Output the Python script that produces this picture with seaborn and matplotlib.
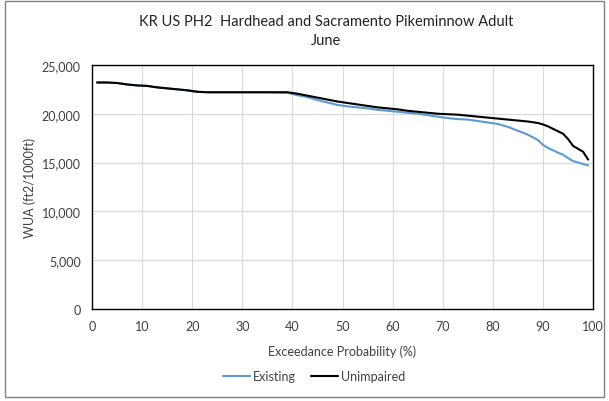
import pandas as pd
import matplotlib.pyplot as plt
import matplotlib.ticker as mticker
from matplotlib.patches import Rectangle
import seaborn as sns

# exceedance probability (%) and WUA values
prob = [1, 3, 5, 7, 9, 11, 13, 15, 17, 19, 21, 23, 27, 31, 35, 39, 41, 43, 45, 47,
        49, 51, 53, 55, 57, 59, 61, 63, 65, 67, 69, 71, 73, 75, 77, 79, 81, 83, 85,
        87, 89, 90, 91, 92, 93, 94, 95, 96, 97, 98, 99]

unimpaired = [23200, 23200, 23150, 23000, 22900, 22850, 22700, 22600, 22500, 22400,
              22250, 22200, 22200, 22200, 22200, 22200, 22050, 21850, 21650, 21450,
              21250, 21100, 20950, 20800, 20650, 20550, 20450, 20300, 20200, 20100,
              20000, 19950, 19900, 19800, 19700, 19600, 19500, 19400, 19300, 19200,
              19050, 18900, 18700, 18450, 18200, 17950, 17400, 16700, 16400, 16100, 15300]

existing = [23200, 23200, 23150, 23000, 22900, 22850, 22700, 22600, 22500, 22400,
            22250, 22200, 22200, 22200, 22200, 22150, 21900, 21700, 21400, 21150,
            20900, 20750, 20650, 20550, 20400, 20300, 20200, 20100, 20000, 19850,
            19700, 19550, 19450, 19400, 19250, 19100, 18950, 18650, 18250, 17850,
            17300, 16800, 16500, 16250, 16000, 15800, 15450, 15150, 15000, 14850, 14700]

df = pd.DataFrame({
    "prob": prob * 2,
    "wua": existing + unimpaired,
    "series": ["Existing"] * len(prob) + ["Unimpaired"] * len(prob),
})

sns.set_style("white")
plt.rcParams["font.family"] = ["Lato", "DejaVu Sans"]

fig = plt.figure(figsize=(6.09, 4.02), dpi=100)
ax = fig.add_axes([0.151, 0.229, 0.823, 0.607])

sns.lineplot(data=df, x="prob", y="wua", hue="series",
             palette={"Existing": "#5B9BD5", "Unimpaired": "black"},
             linewidth=1.5, ax=ax)

ax.set_xlim(0, 100)
ax.set_ylim(0, 25000)
ax.set_xticks(range(0, 101, 10))
ax.set_yticks(range(0, 25001, 5000))
ax.yaxis.set_major_formatter(mticker.FuncFormatter(lambda v, p: f"{int(v):,}"))
ax.grid(True, color="#D9D9D9", linewidth=0.8)
for s in ax.spines.values():
    s.set_color("black")
    s.set_linewidth(1)
ax.tick_params(labelsize=9, length=0, pad=8, colors="#404040")

ax.set_xlabel("Exceedance Probability (%)", fontsize=9, color="#404040", labelpad=9)
ax.set_ylabel("WUA (ft2/1000ft)", fontsize=9, color="#404040")

fig.text(0.535, 0.945, "KR US PH2  Hardhead and Sacramento Pikeminnow Adult",
         ha="center", va="center", fontsize=10.5, color="#222222")
fig.text(0.535, 0.898, "June", ha="center", va="center", fontsize=10.5, color="#222222")

ax.legend(loc="upper center", bbox_to_anchor=(0.443, -0.205), ncol=2, frameon=False,
          fontsize=9, handlelength=2.2, handletextpad=0.2, columnspacing=1.2,
          labelcolor="#404040")
ax.get_legend().set_title(None)

fig.patches.append(Rectangle((0.008, 0.01), 0.984, 0.985, transform=fig.transFigure,
                             fill=False, edgecolor="#808080", linewidth=1))

fig.savefig("out.png", dpi=100)
